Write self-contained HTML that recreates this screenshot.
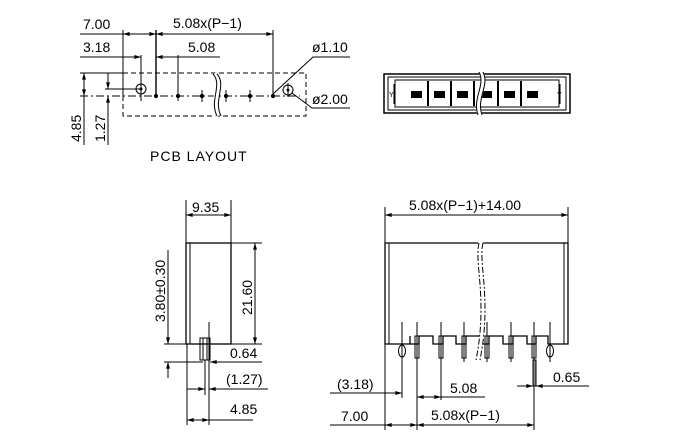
<!DOCTYPE html>
<html><head><meta charset="utf-8"><style>
html,body{margin:0;padding:0;background:#fff;width:680px;height:440px;overflow:hidden}
svg{display:block}
text{font-family:"Liberation Sans",sans-serif;font-size:14px;fill:#000}
</style></head><body>
<svg width="680" height="440" viewBox="0 0 680 440" xmlns="http://www.w3.org/2000/svg">
<defs>
<marker id="a" viewBox="0 0 10 6" refX="10" refY="3" markerWidth="8" markerHeight="4" orient="auto-start-reverse"><path d="M0,0L10,3L0,6z" fill="#000"/></marker>
</defs>
<g stroke="#000" stroke-width="1" fill="none">
<line x1="80" y1="34" x2="123" y2="34"/>
<line x1="123" y1="34" x2="156" y2="34" marker-start="url(#a)" marker-end="url(#a)"/>
<line x1="156" y1="34" x2="273" y2="34" marker-start="url(#a)" marker-end="url(#a)"/>
<line x1="123" y1="30" x2="123" y2="96"/>
<line x1="156" y1="30" x2="156" y2="96" stroke-width="1.4"/>
<line x1="273" y1="30" x2="273" y2="96"/>
<line x1="80" y1="57" x2="141" y2="57" marker-end="url(#a)"/>
<line x1="156" y1="57" x2="178" y2="57" marker-start="url(#a)"/>
<line x1="178" y1="57" x2="220" y2="57"/>
<line x1="141" y1="55" x2="141" y2="101"/>
<line x1="178" y1="55" x2="178" y2="101"/>
<rect x="123" y="73" width="183" height="43" stroke-dasharray="5,3"/>
<line x1="80" y1="96" x2="300" y2="96" stroke-dasharray="8,3,2,3"/>
<line x1="105" y1="89" x2="141" y2="89"/>
<line x1="80" y1="73" x2="123" y2="73"/>
<line x1="84" y1="73" x2="84" y2="96" marker-start="url(#a)" marker-end="url(#a)"/>
<line x1="84" y1="96" x2="84" y2="145"/>
<line x1="108" y1="73" x2="108" y2="89" marker-end="url(#a)"/>
<line x1="108" y1="96" x2="108" y2="145" marker-start="url(#a)"/>
<circle cx="141" cy="89" r="5"/>
<circle cx="288" cy="90" r="5"/>
<g fill="#000"><circle cx="156" cy="96" r="1.6"/><circle cx="178" cy="96" r="1.6"/><circle cx="202" cy="96" r="1.6"/><circle cx="226" cy="96" r="1.6"/><circle cx="250" cy="96" r="1.6"/><circle cx="273" cy="96" r="1.6"/><circle cx="141" cy="89" r="1"/><circle cx="288" cy="90" r="1"/></g>
<line x1="202" y1="90" x2="202" y2="102"/><line x1="226" y1="90" x2="226" y2="102"/><line x1="250" y1="90" x2="250" y2="102"/><line x1="288" y1="83" x2="288" y2="97"/>
<path d="M214,74 C224,85 210,100 218,116" stroke="#fff" stroke-width="5"/>
<path d="M213,74 C223,85 209,100 217,116"/><path d="M217,74 C227,85 213,100 221,116"/>
<path d="M273,94 L313,57 L350,57"/>
<path d="M292,93 L312,108 L350,108"/>
<rect x="384" y="74" width="186" height="39" stroke-width="1.5"/>
<rect x="388" y="77" width="178" height="33"/>
<rect x="395" y="80" width="164" height="27"/>
<line x1="394" y1="84" x2="394" y2="104"/><line x1="560" y1="84" x2="560" y2="104"/>
<g stroke-width="2"><line x1="428" y1="81" x2="428" y2="106"/><line x1="451" y1="81" x2="451" y2="106"/><line x1="474" y1="81" x2="474" y2="106"/><line x1="498" y1="81" x2="498" y2="106"/><line x1="521" y1="81" x2="521" y2="106"/></g>
<g fill="#000" stroke="none">
<rect x="411" y="91" width="11" height="7"/><rect x="434" y="91" width="11" height="7"/><rect x="457" y="91" width="11" height="7"/><rect x="481" y="91" width="11" height="7"/><rect x="504" y="91" width="11" height="7"/><rect x="527" y="91" width="11" height="7"/>
</g>
<path d="M481,72 C488,85 474,98 480,115" stroke="#fff" stroke-width="5"/>
<path d="M479,72 C486,85 472,98 478,115"/><path d="M483,72 C490,85 476,98 482,115"/>
<line x1="186" y1="200" x2="186" y2="243"/><line x1="231" y1="200" x2="231" y2="243"/>
<line x1="186" y1="215" x2="231" y2="215" marker-start="url(#a)" marker-end="url(#a)"/>
<rect x="186" y="243" width="45" height="101" stroke-width="1.3"/>
<line x1="190" y1="243" x2="190" y2="344"/>
<line x1="231" y1="243" x2="262" y2="243"/><line x1="231" y1="344" x2="262" y2="344"/>
<line x1="255" y1="243" x2="255" y2="344" marker-start="url(#a)" marker-end="url(#a)"/>
<line x1="164" y1="344" x2="186" y2="344"/>
<line x1="168" y1="250" x2="168" y2="344" marker-end="url(#a)"/>
<line x1="164" y1="362" x2="203" y2="362"/>
<line x1="168" y1="378" x2="168" y2="362" marker-end="url(#a)"/>
<rect x="200" y="338" width="10" height="22"/>
<line x1="203" y1="338" x2="203" y2="360"/><line x1="207" y1="338" x2="207" y2="360"/>
<line x1="209" y1="322" x2="209" y2="425"/>
<line x1="205" y1="360" x2="205" y2="395"/>
<line x1="187" y1="344" x2="187" y2="425"/>
<line x1="210" y1="362" x2="262" y2="362" marker-start="url(#a)"/>
<line x1="187" y1="389" x2="205" y2="389" marker-end="url(#a)"/>
<line x1="209" y1="389" x2="268" y2="389" marker-start="url(#a)"/>
<line x1="187" y1="420" x2="209" y2="420" marker-start="url(#a)" marker-end="url(#a)"/>
<line x1="209" y1="420" x2="253" y2="420"/>
<line x1="385" y1="207" x2="385" y2="243"/><line x1="568" y1="207" x2="568" y2="243"/>
<line x1="385" y1="215" x2="568" y2="215" marker-start="url(#a)" marker-end="url(#a)"/>
<path d="M385,243 L568,243 L568,344 L548,344 L548,336 L536,336 L536,344 L527,344 L527,336 L513,336 L513,344 L503,344 L503,336 L489,336 L489,344 L480,344 L480,336 L466,336 L466,344 L456,344 L456,336 L443,336 L443,344 L433,344 L433,336 L419,336 L419,344 L410,344 L410,336 L410,344 L385,344 Z" stroke-width="1.3"/>
<line x1="389" y1="243" x2="389" y2="344"/><line x1="564" y1="243" x2="564" y2="344"/>
<g>
<line x1="402" y1="322" x2="402" y2="362"/><line x1="417" y1="322" x2="417" y2="430"/><line x1="441" y1="322" x2="441" y2="362"/><line x1="464" y1="322" x2="464" y2="362"/><line x1="487" y1="322" x2="487" y2="362"/><line x1="511" y1="322" x2="511" y2="362"/><line x1="534" y1="322" x2="534" y2="430"/><line x1="550" y1="322" x2="550" y2="362"/>
<rect x="415" y="336" width="4" height="22"/><rect x="439" y="336" width="4" height="22"/><rect x="462" y="336" width="4" height="22"/><rect x="485" y="336" width="4" height="22"/><rect x="509" y="336" width="4" height="22"/><rect x="532" y="336" width="4" height="22"/>
<ellipse cx="402" cy="351" rx="3.5" ry="6"/><ellipse cx="550" cy="351" rx="3.5" ry="6"/>
<rect x="533" y="360" width="3" height="26" fill="#888"/>
</g>
<path d="M481,242 C476,260 490,300 478,360" stroke="#fff" stroke-width="5"/>
<path d="M479,243 C474,262 488,300 476,360" stroke-dasharray="6,2,2,2"/><path d="M483,243 C478,262 492,300 480,360" stroke-dasharray="6,2,2,2"/>
<line x1="385" y1="344" x2="385" y2="430"/>
<line x1="402" y1="362" x2="402" y2="398"/>
<line x1="330" y1="393" x2="385" y2="393"/>
<line x1="385" y1="393" x2="402" y2="393" marker-end="url(#a)"/>
<line x1="417" y1="397" x2="441" y2="397" marker-start="url(#a)" marker-end="url(#a)"/>
<line x1="441" y1="397" x2="485" y2="397"/>
<line x1="441" y1="362" x2="441" y2="400"/>
<line x1="517" y1="386" x2="533" y2="386" marker-end="url(#a)"/>
<line x1="536" y1="386" x2="589" y2="386" marker-start="url(#a)"/>
<line x1="330" y1="425" x2="385" y2="425"/>
<line x1="385" y1="425" x2="417" y2="425" marker-start="url(#a)" marker-end="url(#a)"/>
<line x1="417" y1="425" x2="534" y2="425" marker-start="url(#a)" marker-end="url(#a)"/>
</g>
<g>
<text x="83" y="29">7.00</text>
<text x="173" y="28">5.08x(P−1)</text>
<text x="83" y="52">3.18</text>
<text x="188" y="52">5.08</text>
<text x="312" y="52">ø1.10</text>
<text x="312" y="104">ø2.00</text>
<text transform="translate(81,142) rotate(-90)">4.85</text>
<text transform="translate(105,142) rotate(-90)">1.27</text>
<text x="150" y="161" letter-spacing="1">PCB LAYOUT</text>
<text x="192" y="212">9.35</text>
<text transform="translate(252,315) rotate(-90)">21.60</text>
<text transform="translate(165,322) rotate(-90)">3.80±0.30</text>
<text x="230" y="358">0.64</text>
<text x="226" y="384">(1.27)</text>
<text x="230" y="414">4.85</text>
<text x="409" y="210">5.08x(P−1)+14.00</text>
<text x="337" y="389">(3.18)</text>
<text x="450" y="393">5.08</text>
<text x="553" y="382">0.65</text>
<text x="341" y="421">7.00</text>
<text x="431" y="420">5.08x(P−1)</text>
</g>
<text x="389" y="97" style="font-size:7px">Y</text><text x="557" y="97" style="font-size:7px">Y</text>
</svg>
</body></html>
